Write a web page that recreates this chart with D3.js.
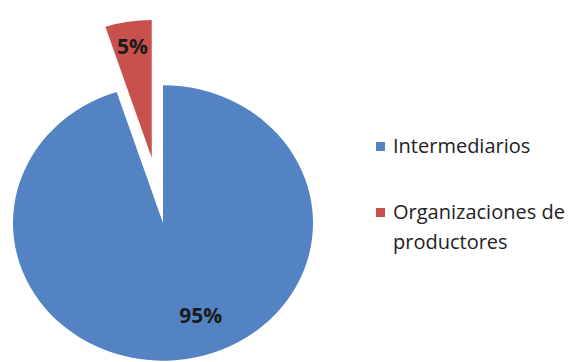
<!DOCTYPE html>
<html>
<head>
<meta charset="utf-8">
<script src="https://cdn.jsdelivr.net/npm/d3@7"></script>
<style>
body { margin: 0; background: #fff; }
svg { display: block; }
text { font-family: "Open Sans", "Noto Sans", sans-serif; }
</style>
</head>
<body>
<script>
var width = 571,
    height = 362;

var categories = ['Intermediarios', 'Organizaciones de productores'];
var values = [95, 5];
var valueLabels = ['95%', '5%'];
var colors = ['#5383c3', '#c8514e'];

// pie looks a bit squashed vertically in the original
var cx = 163, cy = 223, radius = 150, squash = 0.918;
var explode = 72;

var svg = d3.select('body').append('svg')
  .attr('width', width)
  .attr('height', height);

var pie = d3.pie().sort(null).value(function (d) { return d; });
var arcs = pie(values);

var arc = d3.arc().innerRadius(0).outerRadius(radius);

function offset(d, dist) {
  var a = (d.startAngle + d.endAngle) / 2;
  return [Math.sin(a) * dist, -Math.cos(a) * dist];
}

var g = svg.append('g')
  .attr('transform', 'translate(' + cx + ',' + cy + ') scale(1,' + squash + ')');

g.selectAll('path')
  .data(arcs)
  .enter()
  .append('path')
  .attr('d', arc)
  .attr('fill', function (d, i) { return colors[i]; })
  .attr('transform', function (d, i) {
    var o = offset(d, i === 1 ? explode : 0);
    return 'translate(' + o[0] + ',' + o[1] + ')';
  });

// data labels (drawn outside the squashed group so text is not distorted)
var labelPos = [
  { r: 0.72 * radius, shift: 0.2 },
  { r: 0.82 * radius, shift: 0 }
];

function labelXY(d, i) {
  var o = offset({ startAngle: d.startAngle, endAngle: d.endAngle - labelPos[i].shift * 2 }, labelPos[i].r);
  var e = offset(d, i === 1 ? explode : 0);
  return [cx + o[0] + e[0], cy + (o[1] + e[1]) * squash];
}

svg.selectAll('text.val')
  .data(arcs)
  .enter()
  .append('text')
  .attr('class', 'val')
  .attr('x', function (d, i) { return labelXY(d, i)[0]; })
  .attr('y', function (d, i) { return labelXY(d, i)[1]; })
  .attr('dy', '0.36em')
  .attr('text-anchor', 'middle')
  .style('font-size', '21px')
  .style('font-weight', 'bold')
  .style('fill', '#1b1b1b')
  .text(function (d, i) { return valueLabels[i]; });

// legend
var legend = svg.append('g').attr('transform', 'translate(376,142)');
var legendLines = [['Intermediarios'], ['Organizaciones de', 'productores']];

var item = legend.selectAll('g')
  .data(categories)
  .enter()
  .append('g')
  .attr('transform', function (d, i) { return 'translate(0,' + (i * 66) + ')'; });

item.append('rect')
  .attr('width', 9)
  .attr('height', 9)
  .attr('fill', function (d, i) { return colors[i]; });

item.append('text')
  .attr('x', 17)
  .attr('y', 11)
  .style('font-size', '20px')
  .style('fill', '#222')
  .selectAll('tspan')
  .data(function (d, i) { return legendLines[i]; })
  .enter()
  .append('tspan')
  .attr('x', 17)
  .attr('dy', function (d, j) { return j === 0 ? 0 : 30; })
  .text(function (d) { return d; });
</script>
</body>
</html>
